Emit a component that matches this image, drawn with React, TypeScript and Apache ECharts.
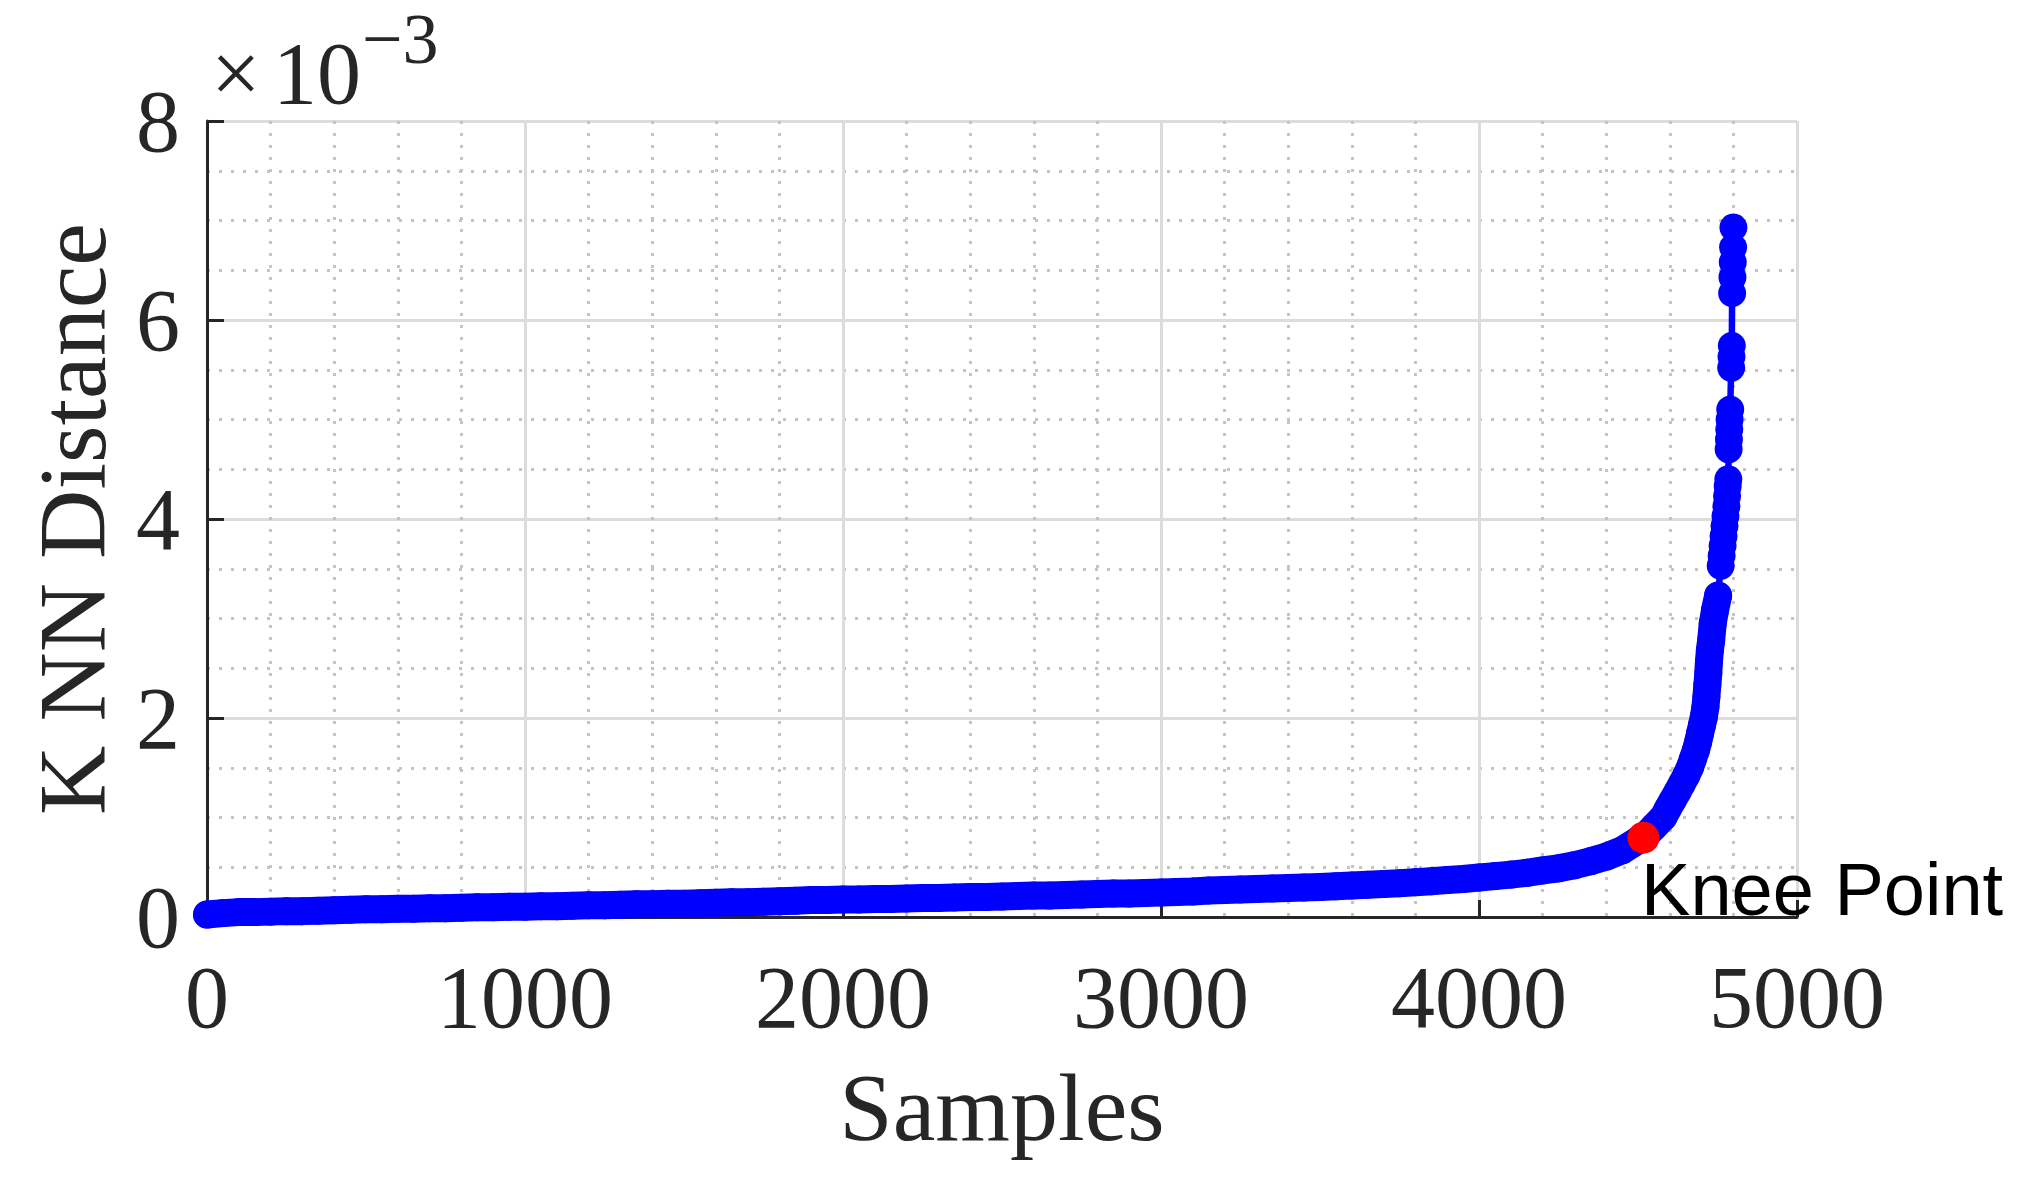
import React, { useEffect, useRef } from "react";
import * as echarts from "echarts";

// Sorted k-NN distances (values in units of 1e-3)
const sampleIdx = [
  0, 50, 100, 150, 200, 250, 300, 350, 400, 450,
  500, 550, 600, 650, 700, 750, 800, 850, 900, 950,
  1000, 1050, 1100, 1150, 1200, 1250, 1300, 1350, 1400, 1450,
  1500, 1550, 1600, 1650, 1700, 1750, 1800, 1850, 1900, 1950,
  2000, 2050, 2100, 2150, 2200, 2250, 2300, 2350, 2400, 2450,
  2500, 2550, 2600, 2650, 2700, 2750, 2800, 2850, 2900, 2950,
  3000, 3050, 3100, 3150, 3200, 3250, 3300, 3350, 3400, 3450,
  3500, 3550, 3600, 3650, 3700, 3750, 3800, 3850, 3900, 3950,
  4000, 4050, 4100, 4150, 4200, 4250, 4300, 4350, 4400, 4450,
  4500, 4517, 4550, 4580, 4594, 4609, 4624, 4638, 4652, 4664,
  4673, 4682, 4689, 4695, 4701, 4707, 4712, 4715, 4718, 4721,
  4723, 4726, 4730, 4735, 4742, 4752,
  4760, 4763, 4766, 4769, 4772, 4775, 4778, 4780, 4782, 4784,
  4785, 4786, 4787, 4788, 4790,
  4793, 4794, 4795,
  4796, 4797, 4798, 4799, 4800,
];

const knnDistE3 = [
  0.025, 0.039, 0.049, 0.049, 0.054, 0.059, 0.059, 0.064, 0.069, 0.074,
  0.079, 0.079, 0.084, 0.084, 0.089, 0.089, 0.094, 0.099, 0.099, 0.104,
  0.104, 0.109, 0.109, 0.114, 0.119, 0.119, 0.124, 0.129, 0.129, 0.134,
  0.134, 0.138, 0.143, 0.148, 0.148, 0.153, 0.158, 0.163, 0.17, 0.171,
  0.176, 0.176, 0.181, 0.181, 0.186, 0.191, 0.191, 0.196, 0.201, 0.201,
  0.206, 0.211, 0.216, 0.216, 0.221, 0.226, 0.231, 0.236, 0.236, 0.242,
  0.247, 0.252, 0.257, 0.267, 0.272, 0.277, 0.282, 0.287, 0.292, 0.297,
  0.302, 0.309, 0.317, 0.325, 0.332, 0.34, 0.35, 0.36, 0.371, 0.382,
  0.397, 0.411, 0.426, 0.444, 0.468, 0.489, 0.52, 0.56, 0.607, 0.67,
  0.77, 0.797, 0.905, 1.005, 1.089, 1.173, 1.257, 1.34, 1.424, 1.508,
  1.591, 1.675, 1.759, 1.843, 1.927, 2.01, 2.11, 2.211, 2.329, 2.446,
  2.563, 2.68, 2.78, 2.95, 3.08, 3.23,
  3.53, 3.63, 3.73, 3.83, 3.93, 4.03, 4.13, 4.23, 4.33, 4.4,
  4.7, 4.8, 4.9, 5.0, 5.1,
  5.52, 5.63, 5.74,
  6.27, 6.43, 6.58, 6.73, 6.93,
];

// last sample of the unbroken (densely packed) part of the curve
const denseRunEndIdx = 4752;

const kneeIdx = 4517;
const kneeDistE3 = 0.797;

const xTickMin = 0;
const xTickMax = 5000;
const xTickStep = 1000;
const yTickMin = 0;
const yTickMax = 8;
const yTickStep = 2;

const xTitle = "Samples";
const yTitle = "K NN Distance";
const kneeText = "Knee Point";
const expTimes = "×";
const expBase = "10";
const expPower = "−3";

const SERIF = '"Liberation Serif", "Times New Roman", serif';
const SANS = '"Liberation Sans", Arial, sans-serif';
const AXIS_COLOR = "#262626";
const BLUE = "#0000ff";

export default function App() {
  const ref = useRef<HTMLDivElement>(null);

  useEffect(() => {
    if (!ref.current) return;
    const chart = echarts.init(ref.current, null, { renderer: "svg" });

    const axisCommon = {
      axisLine: { show: true, onZero: false, lineStyle: { color: AXIS_COLOR, width: 3 } },
      axisTick: { show: true, inside: true, length: 17, lineStyle: { color: AXIS_COLOR, width: 3 } },
      splitLine: { show: true, lineStyle: { color: "#dcdcdc", width: 3 } },
      minorSplitLine: { show: true, lineStyle: { color: "#c4c4c4", width: 3, type: [3, 9] } },
      nameTextStyle: { fontFamily: SERIF, fontSize: 96, color: AXIS_COLOR },
    };

    const allPts = sampleIdx.map((x, i) => [x, knnDistE3[i]]);
    const densePts = allPts.filter((p) => p[0] <= denseRunEndIdx);

    chart.setOption({
      animation: false,
      backgroundColor: "#ffffff",
      grid: { left: 207, top: 121, width: 1590, height: 796, containLabel: false, outerBoundsMode: "none" },
      xAxis: {
        type: "value",
        min: xTickMin,
        max: xTickMax,
        interval: xTickStep,
        ...axisCommon,
        minorTick: { show: false, splitNumber: 5 },
        axisLabel: {
          margin: 36,
          fontFamily: SERIF,
          fontSize: 88,
          color: AXIS_COLOR,
          formatter: (v: number) => String(v),
        },
        name: xTitle,
        nameLocation: "middle",
        nameGap: 142,
      },
      yAxis: {
        type: "value",
        min: yTickMin,
        max: yTickMax,
        interval: yTickStep,
        ...axisCommon,
        minorTick: { show: false, splitNumber: 4 },
        axisLabel: {
          margin: 27,
          fontFamily: SERIF,
          fontSize: 88,
          color: AXIS_COLOR,
          formatter: (v: number) => String(v),
        },
        name: yTitle,
        nameLocation: "middle",
        nameRotate: 90,
        nameGap: 87,
      },
      series: [
        {
          // overlapping markers of the dense run merge into a solid band
          type: "line",
          data: densePts,
          symbol: "none",
          clip: false,
          silent: true,
          lineStyle: { color: BLUE, width: 28, cap: "round", join: "round" },
          z: 2,
        },
        {
          type: "line",
          data: allPts,
          symbol: "circle",
          symbolSize: 28,
          showAllSymbol: true,
          clip: false,
          itemStyle: { color: BLUE, borderWidth: 0, opacity: 1 },
          lineStyle: { color: BLUE, width: 6.5 },
          z: 3,
        },
        {
          type: "scatter",
          data: [[kneeIdx, kneeDistE3]],
          symbol: "circle",
          symbolSize: 32,
          clip: false,
          itemStyle: { color: "#ff0000", borderWidth: 0, opacity: 1 },
          z: 4,
        },
      ],
    });

    const kp = chart.convertToPixel({ xAxisIndex: 0, yAxisIndex: 0 }, [kneeIdx, kneeDistE3]) as number[];

    chart.setOption({
      graphic: [
        {
          id: "kneeText",
          type: "text",
          z: 10,
          style: {
            text: kneeText,
            x: kp[0] - 2.3,
            y: kp[1] + 51.7,
            fontFamily: SANS,
            fontSize: 74,
            fill: "#000000",
            align: "left",
            verticalAlign: "middle",
          },
        },
        {
          id: "expTimes",
          type: "text",
          style: { text: expTimes, x: 211, y: 73, fontFamily: SERIF, fontSize: 88, fill: AXIS_COLOR, align: "left", verticalAlign: "middle" },
        },
        {
          id: "expBase",
          type: "text",
          style: { text: expBase, x: 273, y: 73, fontFamily: SERIF, fontSize: 88, fill: AXIS_COLOR, align: "left", verticalAlign: "middle" },
        },
        {
          id: "expPower",
          type: "text",
          style: { text: expPower, x: 362, y: 39, fontFamily: SERIF, fontSize: 72, fill: AXIS_COLOR, align: "left", verticalAlign: "middle" },
        },
      ],
    });

    return () => chart.dispose();
  }, []);

  return (
    <div
      ref={ref}
      style={{ position: "absolute", left: 0, top: 0, width: 2027, height: 1184, background: "#ffffff" }}
    />
  );
}
